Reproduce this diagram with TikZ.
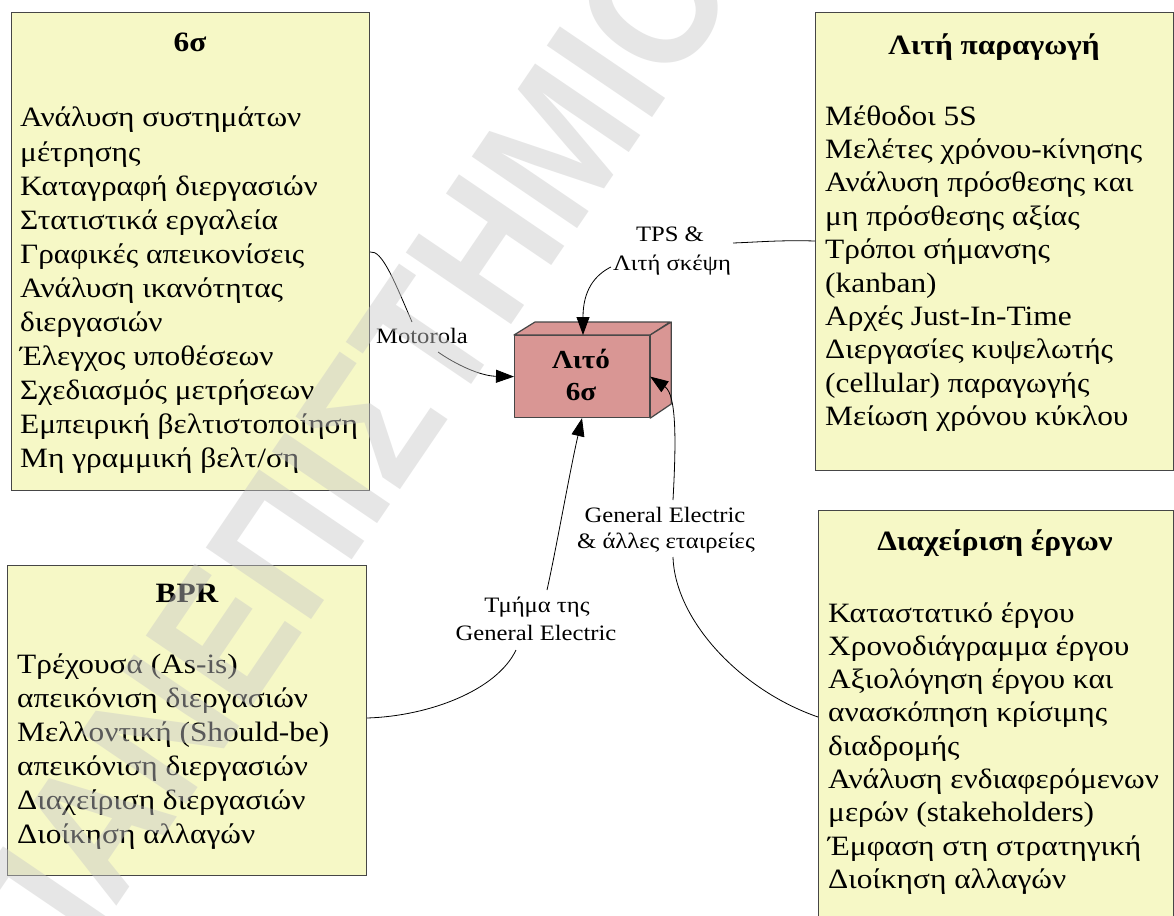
\documentclass[tikz,border=0pt]{standalone}
\usepackage{fontspec}
\setmainfont{Liberation Serif}[FakeStretch=1.12]
\newfontfamily\wmfont{Liberation Sans}[FakeStretch=0.87]
\usetikzlibrary{arrows.meta,calc}

\definecolor{panelfill}{RGB}{246,248,198}
\definecolor{panelline}{RGB}{70,70,70}
\definecolor{corefill}{RGB}{217,150,148}
\definecolor{wmgray}{RGB}{200,200,200}

\tikzset{
  panel/.style={draw=panelline, fill=panelfill, line width=1.2pt, anchor=north west, inner sep=0pt},
  core/.style={draw=panelline, fill=corefill, line width=1.2pt, line join=round},
  boxtitle/.style={font=\fontsize{28pt}{34pt}\selectfont\bfseries, anchor=base, inner sep=0pt},
  boxline/.style={font=\fontsize{28pt}{34pt}\selectfont, anchor=base west, inner sep=0pt},
  coretext/.style={font=\fontsize{26pt}{32pt}\selectfont\bfseries, anchor=base, inner sep=0pt},
  lbl/.style={font=\fontsize{22pt}{28pt}\selectfont, anchor=base, inner sep=0pt},
  edge/.style={line width=0.8pt, black},
  tip/.style={-{Triangle[length=18pt,width=13pt]}},
  wmark/.style={font=\wmfont\bfseries\fontsize{185pt}{185pt}\selectfont, text=wmgray, text opacity=0.45, inner sep=0pt},
}

\begin{document}
\begin{tikzpicture}[x=1pt, y=-1pt]
\useasboundingbox (0,0) rectangle (1174,915);
\fill[white] (0,0) rectangle (1174,915);

% ---- panels ----
\node[panel, minimum width=358pt, minimum height=478pt] (sixsigma) at (11,12) {};
\node[panel, minimum width=358pt, minimum height=458pt] (lean) at (815,12) {};
\node[panel, minimum width=355pt, minimum height=420pt] (proj) at (818,510) {};
\node[panel, minimum width=359pt, minimum height=310pt] (bpr) at (7,565) {};

% ---- panel titles ----
\node[boxtitle] (sixsigma-t) at (190,52) {6σ};
\node[boxtitle] (lean-t) at (994,55) {Λιτή παραγωγή};
\node[boxtitle] (proj-t) at (995,550) {Διαχείριση έργων};
\node[boxtitle] (bpr-t) at (187,602) {BPR};

% ---- panel contents ----
\foreach \t [count=\i] in {{Ανάλυση συστημάτων},{μέτρησης},{Καταγραφή διεργασιών},
  {Στατιστικά εργαλεία},{Γραφικές απεικονίσεις},{Ανάλυση ικανότητας},{διεργασιών},
  {Έλεγχος υποθέσεων},{Σχεδιασμός μετρήσεων},{Εμπειρική βελτιστοποίηση},{Μη γραμμική βελτ/ση}}
  \node[boxline] (sixsigma-\i) at (20,{127+34*(\i-1)}) {\t};

\foreach \t [count=\i] in {{Μέθοδοι 5S},{Μελέτες χρόνου-κίνησης},{Ανάλυση πρόσθεσης και},
  {μη πρόσθεσης αξίας},{Τρόποι σήμανσης},{(kanban)},{Αρχές Just-In-Time},
  {Διεργασίες κυψελωτής},{(cellular) παραγωγής},{Μείωση χρόνου κύκλου}}
  \node[boxline] (lean-\i) at (825,{125+33.4*(\i-1)}) {\t};

\foreach \t [count=\i] in {{Καταστατικό έργου},{Χρονοδιάγραμμα έργου},{Αξιολόγηση έργου και},
  {ανασκόπηση κρίσιμης},{διαδρομής},{Ανάλυση ενδιαφερόμενων},{μερών (stakeholders)},
  {Έμφαση στη στρατηγική},{Διοίκηση αλλαγών}}
  \node[boxline] (proj-\i) at (828,{622+33.3*(\i-1)}) {\t};

\foreach \t [count=\i] in {{Τρέχουσα (As-is)},{απεικόνιση διεργασιών},{Μελλοντική (Should-be)},
  {απεικόνιση διεργασιών},{Διαχείριση διεργασιών},{Διοίκηση αλλαγών}}
  \node[boxline] (bpr-\i) at (17,{673+34*(\i-1)}) {\t};

% ---- central block (box with depth) ----
\node[core, minimum width=135pt, minimum height=82pt, anchor=north west, inner sep=0pt] (lito) at (514,335) {};
\draw[core] (lito.north west) -- ++(21,-13) -- ++(135,0) -- (lito.north east) -- cycle;
\draw[core] (lito.north east) -- ++(21,-13) -- ++(0,82) -- (lito.south east) -- cycle;
\node[coretext] (lito-a) at (581,368) {Λιτό};
\node[coretext] (lito-b) at (581,400) {6σ};

% ---- connector labels ----
\node[lbl] (motorola) at (422,343) {Motorola};
\node[lbl] (tps-a) at (670,241) {TPS \&};
\node[lbl] (tps-b) at (672,270) {Λιτή σκέψη};
\node[lbl] (ge-a) at (537,612) {Τμήμα της};
\node[lbl] (ge-b) at (536,640) {General Electric};
\node[lbl] (oth-a) at (665,522) {General Electric};
\node[lbl] (oth-b) at (666,548) {\& άλλες εταιρείες};

% ---- connectors ----
% 6σ -> Λιτό 6σ
\draw[edge] ($(sixsigma.north east)+(0,240)$) .. controls (382,250) and (394,280) .. ($(motorola.base)+(-10,-21)$);
\draw[edge, tip] ($(motorola.base)+(16,9)$) .. controls (455,364) and (480,376) .. (lito.west);
% Λιτή παραγωγή -> Λιτό 6σ
\draw[edge] ($(lean.north west)+(0,229)$) .. controls (780,240) and (760,242) .. ($(tps-a.base)+(63,2)$);
\draw[edge, tip] ($(tps-b.base west)+(-2,-3)$) .. controls (595,275) and (583,290) .. ($(lito.north west)+(69,0)$);
% BPR -> Λιτό 6σ
\draw[edge] ($(bpr.north east)+(0,153)$) .. controls (430,716) and (497,690) .. ($(ge-b.base)+(-20,10)$);
\draw[edge, tip] ($(ge-a.base)+(10,-22)$) .. controls (556,550) and (570,470) .. ($(lito.south west)+(68,0)$);
% Διαχείριση έργων -> Λιτό 6σ
\draw[edge] ($(proj.north west)+(0,207)$) .. controls (740,690) and (675,620) .. ($(oth-b.base)+(7,9)$);
\draw[edge, tip] ($(oth-a.base)+(8,-22)$) .. controls (676,445) and (677,395) .. (lito.east);

% ---- watermark ----
\node[wmark, rotate=55.8] (watermark) at (343,460) {ΠΑΝΕΠΙΣΤΗΜΙΟ};
\end{tikzpicture}
\end{document}
